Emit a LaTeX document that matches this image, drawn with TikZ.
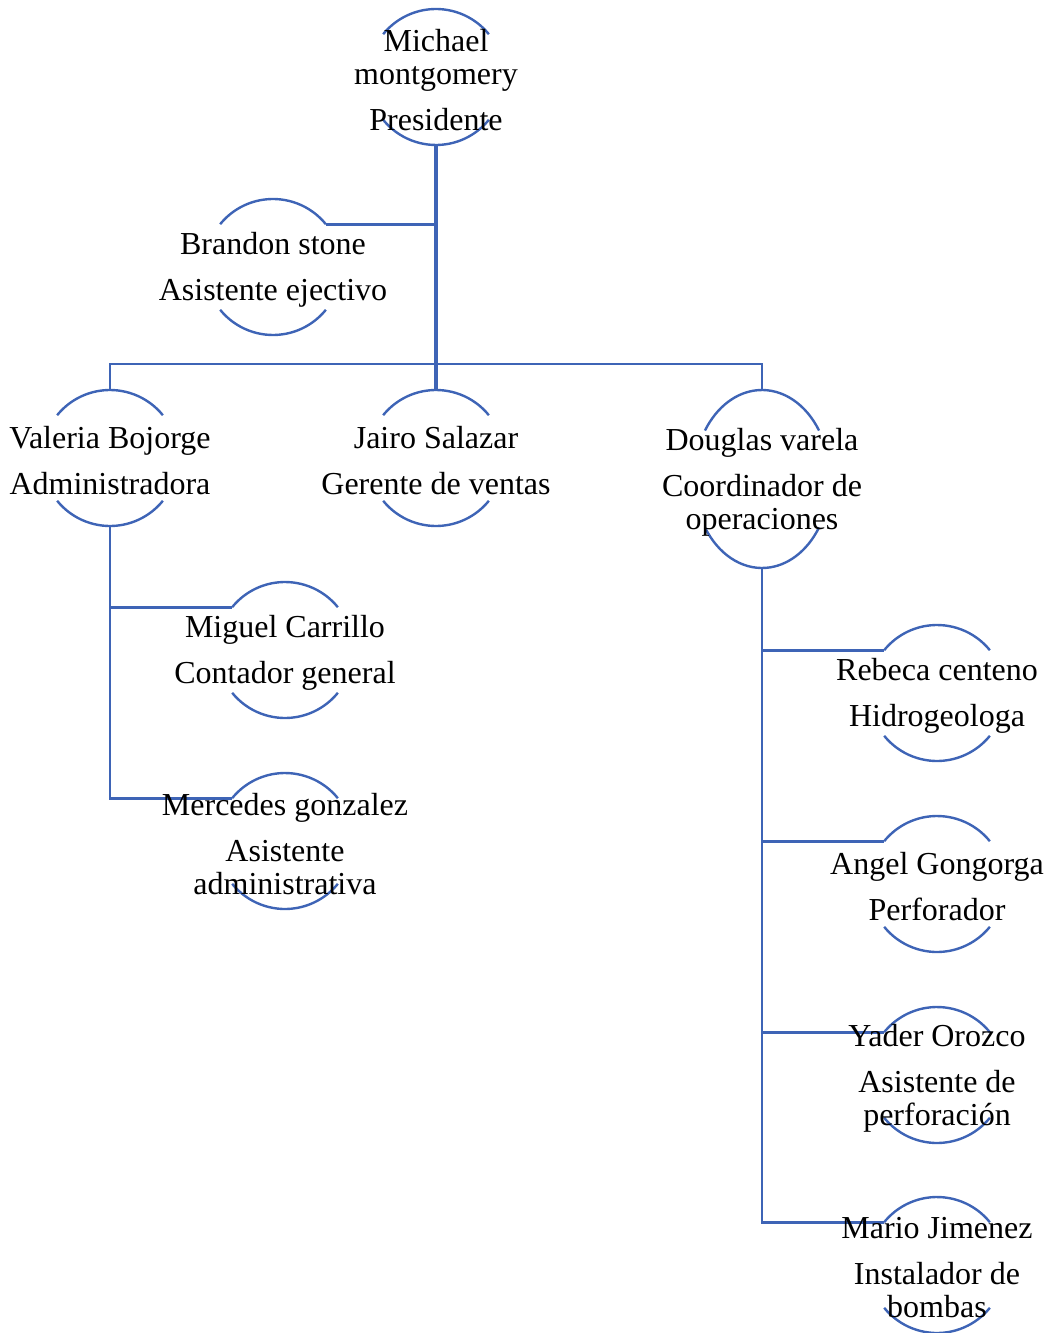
\documentclass[tikz,border=0pt]{standalone}
\usepackage{fontspec}
\setmainfont{Liberation Serif}
\usetikzlibrary{shapes.geometric}
\definecolor{lc}{RGB}{62,100,182}
\tikzset{
 ring/.style={circle,minimum size=102pt,inner sep=0pt,outer sep=0pt},
 oval/.style={ellipse,minimum width=102pt,minimum height=133.5pt,inner sep=0pt,outer sep=0pt},
 lbl/.style={align=center,font=\fontsize{24}{24.75}\selectfont,inner sep=0pt,yshift=-2.25pt},
 arcline/.style={draw=lc,line width=1.8pt},
 conn/.style={draw=lc,line width=2.1pt},
}
\newcommand\ringarcs[1]{%
 \draw[arcline] (#1.39) arc[start angle=39,end angle=141,radius=51pt];
 \draw[arcline] (#1.219) arc[start angle=219,end angle=321,radius=51pt];}
\begin{document}
\begin{tikzpicture}[x=0.75pt,y=0.75pt]
\useasboundingbox (0,0) rectangle (1049,-1333);
% anchor shapes
\node[ring] (mc) at (436,-77) {};
\node[ring] (bc) at (273,-267) {};
\node[ring] (vc) at (110,-458) {};
\node[ring] (jc) at (436,-458) {};
\node[oval] (dc) at (762,-479) {};
\node[ring] (mic) at (285,-650) {};
\node[ring] (mec) at (285,-841) {};
\node[ring] (rc) at (937,-693) {};
\node[ring] (ac) at (937,-884) {};
\node[ring] (yc) at (937,-1075) {};
\node[ring] (mac) at (937,-1265) {};
\coordinate (bar) at (436,-364);
% connectors
\draw[conn,line width=2.6pt] (mc.south) -- (jc.north);
\draw[conn] (mc.south) |- (bc.39);
\draw[conn] (vc.north) |- (bar) -| (dc.north);
\draw[conn] (vc.south) |- (mic.141);
\draw[conn] (vc.south) |- (mec.141);
\draw[conn] (dc.south) |- (rc.141);
\draw[conn] (dc.south) |- (ac.141);
\draw[conn] (dc.south) |- (yc.141);
\draw[conn] (dc.south) |- (mac.141);
% arcs
\ringarcs{mc}\ringarcs{bc}\ringarcs{vc}\ringarcs{jc}
\ringarcs{mic}\ringarcs{mec}\ringarcs{rc}\ringarcs{ac}\ringarcs{yc}\ringarcs{mac}
\draw[arcline] ([shift={(33:51pt and 66.75pt)}]dc.center) arc[start angle=33,end angle=147,x radius=51pt,y radius=66.75pt];
\draw[arcline] ([shift={(213:51pt and 66.75pt)}]dc.center) arc[start angle=213,end angle=327,x radius=51pt,y radius=66.75pt];
% labels
\node[lbl] (mt) at (mc.center) {Michael\\montgomery\\[9.75pt]Presidente};
\node[lbl] (bt) at (bc.center) {Brandon stone\\[9.75pt]Asistente ejectivo};
\node[lbl] (vt) at (vc.center) {Valeria Bojorge\\[9.75pt]Administradora};
\node[lbl] (jt) at (jc.center) {Jairo Salazar\\[9.75pt]Gerente de ventas};
\node[lbl] (dt) at (dc.center) {Douglas varela\\[9.75pt]Coordinador de\\operaciones};
\node[lbl] (mit) at (mic.center) {Miguel Carrillo\\[9.75pt]Contador general};
\node[lbl] (met) at (mec.center) {Mercedes gonzalez\\[9.75pt]Asistente\\administrativa};
\node[lbl] (rt) at (rc.center) {Rebeca centeno\\[9.75pt]Hidrogeologa};
\node[lbl] (at) at (ac.center) {Angel Gongorga\\[9.75pt]Perforador};
\node[lbl] (yt) at (yc.center) {Yader Orozco\\[9.75pt]Asistente de\\perforación};
\node[lbl] (mat) at (mac.center) {Mario Jimenez\\[9.75pt]Instalador de\\bombas};
\end{tikzpicture}
\end{document}
